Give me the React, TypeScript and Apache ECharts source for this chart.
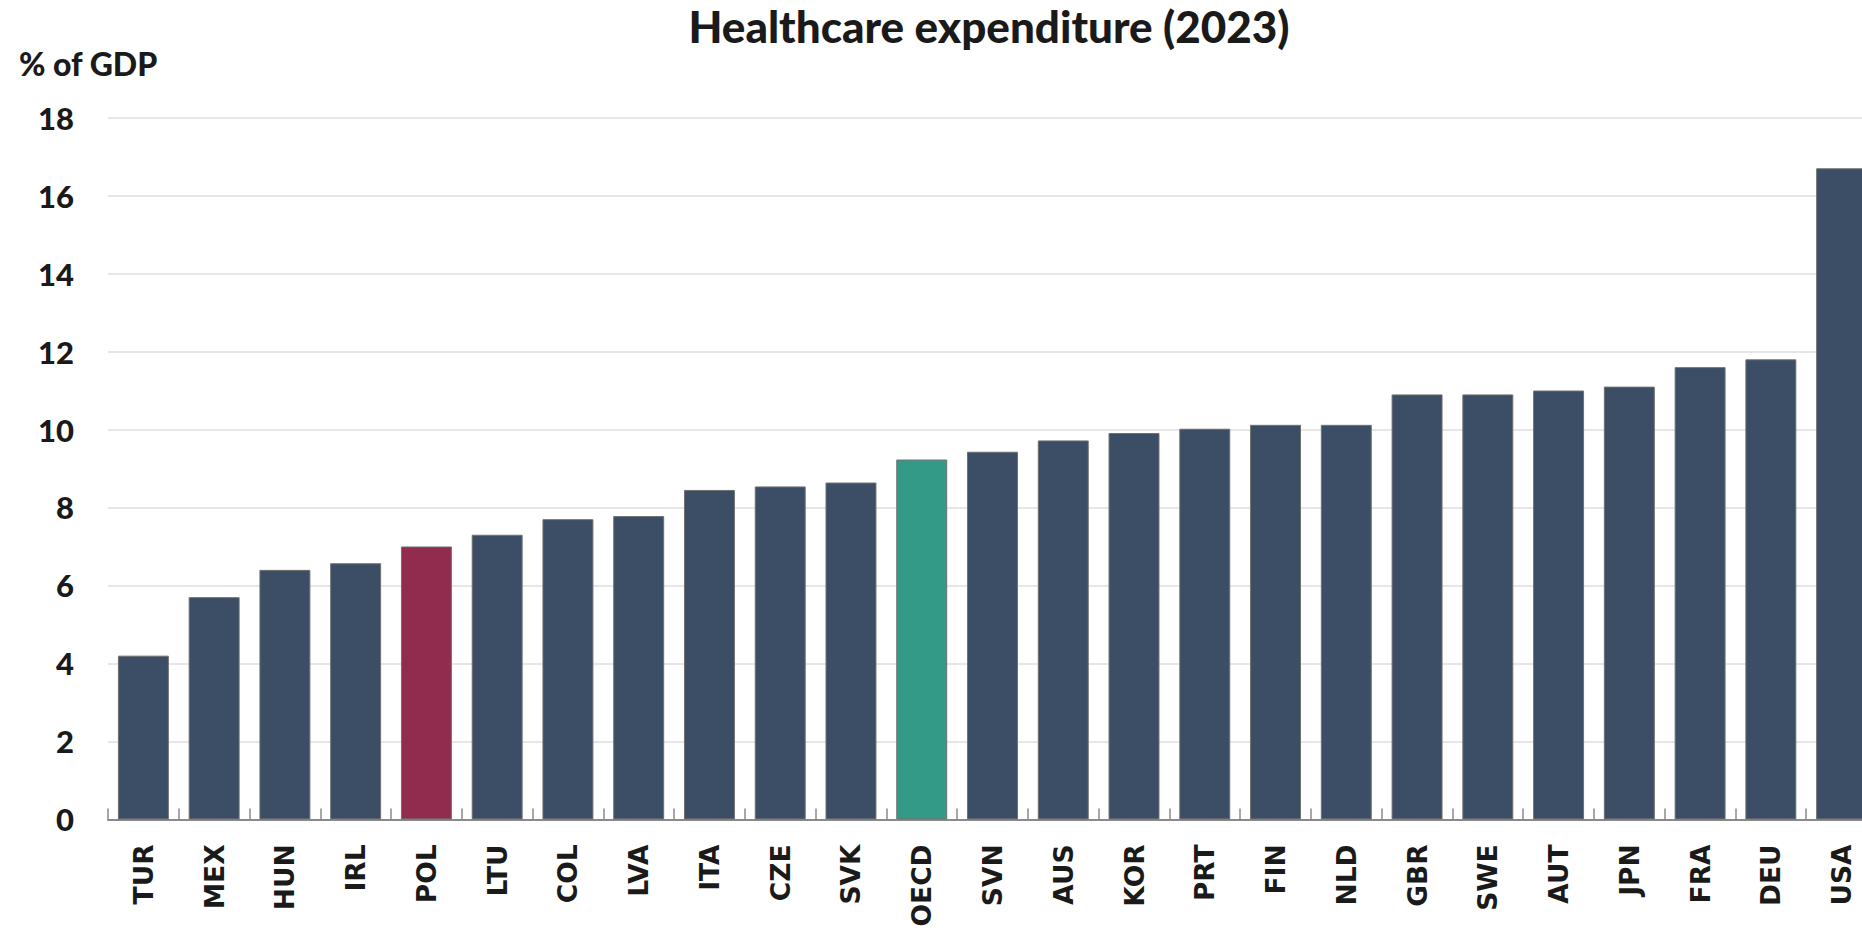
import React, { useEffect, useRef } from "react";
import * as echarts from "echarts";

const titleText = "Healthcare expenditure (2023)";
const unitLabel = "% of GDP";

const countries = [
  "TUR", "MEX", "HUN", "IRL", "POL", "LTU", "COL", "LVA", "ITA", "CZE", "SVK", "OECD", "SVN",
  "AUS", "KOR", "PRT", "FIN", "NLD", "GBR", "SWE", "AUT", "JPN", "FRA", "DEU", "USA",
];

const spending = [
  4.2, 5.7, 6.4, 6.57, 7.0, 7.3, 7.7, 7.78, 8.45, 8.54, 8.64, 9.23, 9.43,
  9.72, 9.91, 10.02, 10.12, 10.12, 10.9, 10.9, 11.0, 11.1, 11.6, 11.8, 16.7,
];

const highlighted: Record<string, string> = {
  POL: "#922c4e",
  OECD: "#349a88",
};
const baseColor = "#3b4e66";

export default function App() {
  const ref = useRef<HTMLDivElement>(null);

  useEffect(() => {
    if (!ref.current) return;
    const chart = echarts.init(ref.current, null, { renderer: "svg" });
    const data = spending.map((v, i) => ({
      value: v,
      itemStyle: { color: highlighted[countries[i]] || baseColor },
    }));
    chart.setOption({
      animation: false,
      backgroundColor: "#ffffff",
      graphic: [
        {
          type: "text",
          x: 989,
          y: 26,
          style: {
            text: titleText,
            fontFamily: "Lato",
            fontWeight: 900,
            fontSize: 44,
            fill: "#1a1a1a",
            textAlign: "center",
            textVerticalAlign: "middle",
          },
        },
        {
          type: "text",
          x: 19,
          y: 63,
          style: {
            text: unitLabel,
            fontFamily: "Lato",
            fontWeight: 900,
            fontSize: 32,
            fill: "#1a1a1a",
            textAlign: "left",
            textVerticalAlign: "middle",
          },
        },
      ],
      grid: {
        left: 108,
        width: 1769,
        top: 117.6,
        height: 701.8,
        containLabel: false,
        outerBoundsMode: "none",
      },
      xAxis: {
        type: "category",
        data: countries,
        boundaryGap: true,
        axisLine: { show: true, lineStyle: { color: "#8a8a8a", width: 2 } },
        axisTick: {
          show: true,
          inside: true,
          length: 11,
          alignWithLabel: false,
          lineStyle: { color: "#8a8a8a", width: 1.5 },
        },
        axisLabel: {
          rotate: 90,
          margin: 25,
          interval: 0,
          fontFamily: "DejaVu Sans",
          fontWeight: "bold",
          fontSize: 26.5,
          color: "#1a1a1a",
        },
      },
      yAxis: {
        type: "value",
        min: 0,
        max: 18,
        interval: 2,
        axisLine: { show: false },
        axisTick: { show: false },
        splitLine: { show: true, lineStyle: { color: "#e6e6e6", width: 2 } },
        axisLabel: {
          margin: 34,
          fontFamily: "Lato",
          fontWeight: 900,
          fontSize: 31,
          color: "#1a1a1a",
        },
      },
      series: [
        {
          type: "bar",
          data,
          barWidth: "72%",
          itemStyle: { borderColor: "#707070", borderWidth: 1 },
        },
      ],
    });
    return () => chart.dispose();
  }, []);

  return (
    <div
      ref={ref}
      style={{ position: "fixed", left: 0, top: 0, width: 1862, height: 930, background: "#fff" }}
    />
  );
}
